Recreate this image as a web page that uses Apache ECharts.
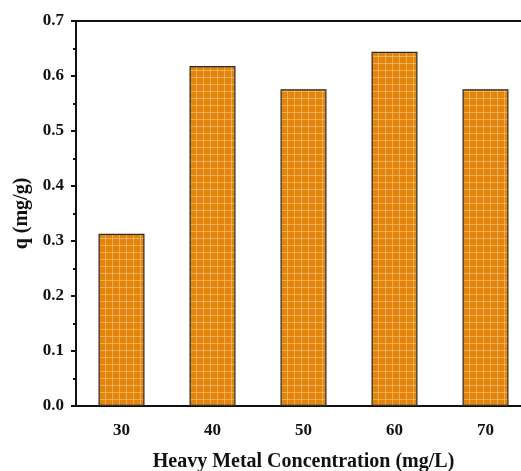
<!DOCTYPE html>
<html>
<head>
<meta charset="utf-8">
<script src="https://cdn.jsdelivr.net/npm/echarts@6/dist/echarts.min.js"></script>
<style>html,body{margin:0;padding:0;background:#fff}#c{width:521px;height:471px}</style>
</head>
<body>
<div id="c"></div>
<script>
var categories = ['30', '40', '50', '60', '70'];
var qValues = [0.313, 0.618, 0.576, 0.644, 0.576];
var yTicks = [0, 0.1, 0.2, 0.3, 0.4, 0.5, 0.6, 0.7];

var pc = document.createElement('canvas');
pc.width = 7; pc.height = 7;
var ctx = pc.getContext('2d');
ctx.fillStyle = '#E3850B';
ctx.fillRect(0, 0, 7, 7);
ctx.fillStyle = 'rgba(255,230,190,0.4)';
ctx.fillRect(0, 0, 7, 1);
ctx.fillRect(0, 0, 1, 7);

var chart = echarts.init(document.getElementById('c'));
var font = '"Liberation Serif", "Times New Roman", serif';
chart.setOption({
  animation: false,
  grid: { left: 76, top: 21, bottom: 65, width: 455, outerBoundsMode: 'none', containLabel: false,
    show: true, borderColor: '#111', borderWidth: 2, backgroundColor: 'transparent' },
  xAxis: {
    type: 'category',
    data: categories,
    name: 'Heavy Metal Concentration (mg/L)',
    nameLocation: 'middle',
    nameGap: 46,
    nameTextStyle: { fontFamily: font, fontWeight: 'bold', fontSize: 20, color: '#111' },
    axisLine: { lineStyle: { color: '#111', width: 2 } },
    axisTick: { alignWithLabel: true, length: 5, lineStyle: { color: '#111', width: 2 } },
    axisLabel: { fontFamily: font, fontWeight: 'bold', fontSize: 17, color: '#111', margin: 16 },
    splitLine: { show: false }
  },
  yAxis: {
    type: 'value',
    min: yTicks[0],
    max: yTicks[yTicks.length - 1],
    interval: 0.1,
    name: 'q (mg/g)',
    nameLocation: 'middle',
    nameGap: 41,
    nameTextStyle: { fontFamily: font, fontWeight: 'bold', fontSize: 20, color: '#111' },
    axisLine: { show: true, lineStyle: { color: '#111', width: 2 } },
    axisTick: { show: true, length: 5, lineStyle: { color: '#111', width: 2 } },
    minorTick: { show: true, splitNumber: 2, length: 3, lineStyle: { color: '#111', width: 2 } },
    axisLabel: { fontFamily: font, fontWeight: 'bold', fontSize: 17, color: '#111', margin: 12,
      formatter: function (v) { return v.toFixed(1); } },
    splitLine: { show: false }
  },
  series: [{
    type: 'bar',
    data: qValues,
    barWidth: 46,
    itemStyle: {
      color: { image: pc, repeat: 'repeat' },
      borderColor: '#2a2a2a',
      borderWidth: 1.2
    }
  }]
});
</script>
</body>
</html>
